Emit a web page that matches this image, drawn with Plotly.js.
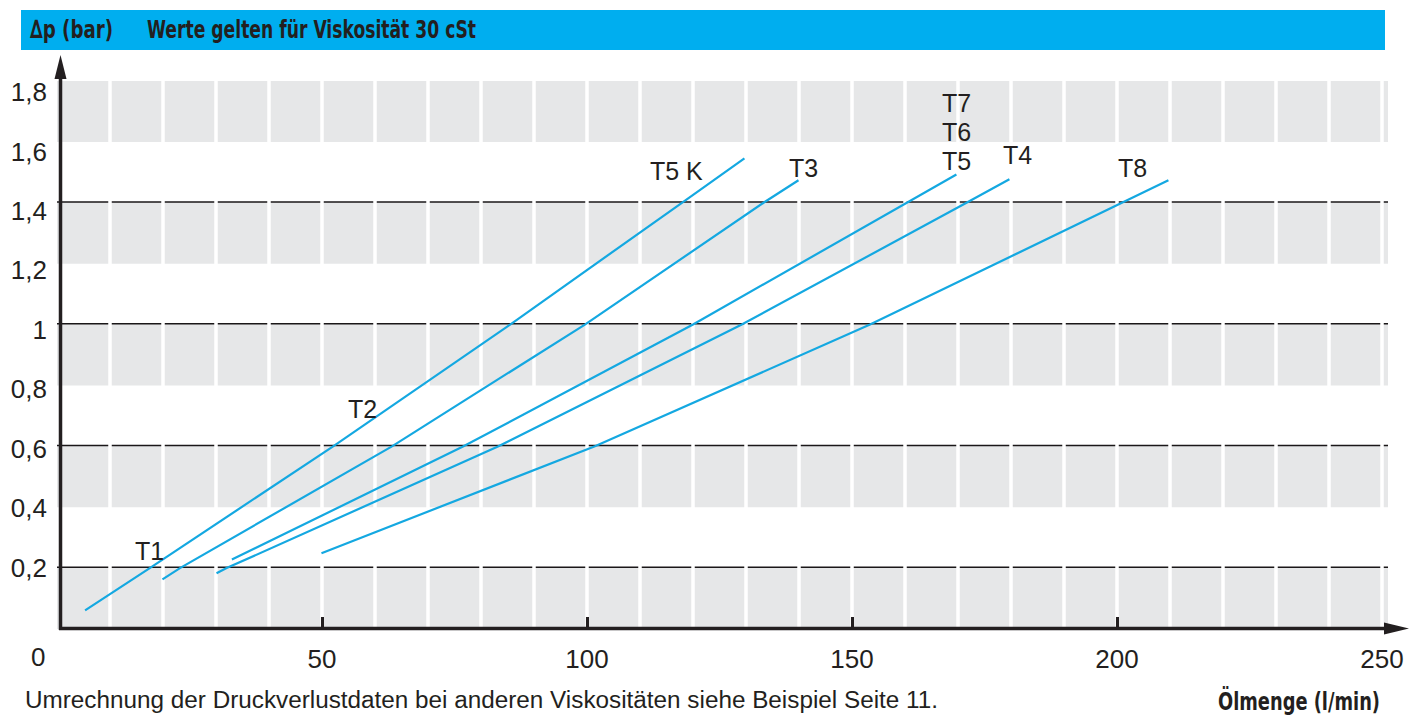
<!DOCTYPE html>
<html>
<head>
<meta charset="utf-8">
<script src="https://cdn.plot.ly/plotly-3.0.1.min.js"></script>
<style>html,body{margin:0;padding:0;background:#fff;}#chart{width:1421px;height:715px;}</style>
</head>
<body>
<div id="chart"></div>
<script>
// ---------- data ----------
const xTickVals = [50, 100, 150, 200, 250];
const xTickText = ["50", "100", "150", "200", "250"];
const yTickVals = [0.2, 0.4, 0.6, 0.8, 1.0, 1.2, 1.4, 1.6, 1.8];
const yTickText = ["0,2", "0,4", "0,6", "0,8", "1", "1,2", "1,4", "1,6", "1,8"];

// line 1 (T1 / T2 / T5 K)
const line1X = [5.3, 17.5, 52.1, 85.5, 117.9, 129.7];
const line1Y = [0.061, 0.2, 0.6, 1.0, 1.4, 1.546];
// line 2 (T3)
const line2X = [19.9, 23.2, 63.2, 99.6, 133.3, 139.9];
const line2Y = [0.163, 0.2, 0.6, 1.0, 1.4, 1.474];
// line 3 (T5 / T6 / T7)
const line3X = [33.0, 76.7, 120.0, 160.3, 169.7];
const line3Y = [0.228, 0.6, 1.0, 1.4, 1.493];
// line 4 (T4)
const line4X = [30.1, 32.0, 83.3, 129.2, 171.6, 179.7];
const line4Y = [0.183, 0.2, 0.6, 1.0, 1.4, 1.477];
// line 5 (T8)
const line5X = [49.9, 101.5, 153.4, 200.9, 209.7];
const line5Y = [0.249, 0.6, 1.0, 1.4, 1.474];

// curve labels
const labelText = ["T1", "T2", "T5 K", "T3", "T7", "T6", "T5", "T4", "T8"];
const labelX    = [17.5, 57.7, 116.8, 140.9, 169.8, 169.8, 169.8, 181.3, 203.0];
const labelY    = [0.256, 0.724, 1.504, 1.514, 1.728, 1.633, 1.537, 1.557, 1.514];

const headerLeft  = "∆p (bar)";
const headerRight = "Werte gelten für Viskosität 30 cSt";
const footNote    = "Umrechnung der Druckverlustdaten bei anderen Viskositäten siehe Beispiel Seite 11.";
const xTitle      = "Ölmenge (l/min)";

// ---------- layout helpers ----------
const L = 57, T = 81, W = 1331, H = 548;
const XMAX = 251.13, YMAX = 1.8;
const PX = p => (p - L) / W;
const PY = p => (T + H - p) / H;
const INK = "#231f20";
const BLUE = "#14a8e1";
const GRAY = "#e6e7e8";
const condensed = "'Liberation Sans Narrow', 'DejaVu Sans Condensed', sans-serif";
const sans = "'Liberation Sans', Arial, sans-serif";

const shapes = [];
// header bar
shapes.push({type: "rect", xref: "paper", yref: "paper", x0: PX(21), x1: PX(1385), y0: PY(50), y1: PY(10),
  fillcolor: "#00aeef", line: {width: 0}, layer: "above"});
// gray bands
[[0, 0.2], [0.4, 0.6], [0.8, 1.0], [1.2, 1.4], [1.6, 1.8]].forEach(b => {
  shapes.push({type: "rect", xref: "x", yref: "y", x0: 0, x1: XMAX, y0: b[0], y1: b[1],
    fillcolor: GRAY, line: {width: 0}, layer: "below"});
});
// white cell separators
for (let v = 10; v <= 250; v += 10) {
  shapes.push({type: "line", xref: "x", yref: "y", x0: v, x1: v, y0: 0, y1: YMAX,
    line: {color: "#ffffff", width: 3.5}, layer: "below"});
}
// black horizontal lines
[0.2, 0.6, 1.0, 1.4, 1.8].forEach(v => {
  shapes.push({type: "line", xref: "paper", yref: "y", x0: 0, x1: 1, y0: v, y1: v,
    line: {color: "#1a1718", width: 3}, layer: "below"});
});
// axes with arrows
shapes.push({type: "line", xref: "paper", yref: "paper", x0: PX(60.5), x1: PX(60.5), y0: PY(630), y1: PY(70),
  line: {color: INK, width: 3.5}, layer: "above"});
shapes.push({type: "path", xref: "paper", yref: "paper",
  path: `M ${PX(54.5)} ${PY(79)} L ${PX(60.5)} ${PY(55)} L ${PX(66.5)} ${PY(79)} Z`,
  fillcolor: INK, line: {width: 0}, layer: "above"});
shapes.push({type: "line", xref: "paper", yref: "paper", x0: PX(59), x1: PX(1392), y0: PY(628.5), y1: PY(628.5),
  line: {color: INK, width: 3.5}, layer: "above"});
shapes.push({type: "path", xref: "paper", yref: "paper",
  path: `M ${PX(1384)} ${PY(622.5)} L ${PX(1409)} ${PY(628.5)} L ${PX(1384)} ${PY(634.5)} Z`,
  fillcolor: INK, line: {width: 0}, layer: "above"});

const annotations = [];
for (let i = 0; i < labelText.length; i++) {
  annotations.push({xref: "x", yref: "y", x: labelX[i], y: labelY[i], text: labelText[i], showarrow: false,
    xanchor: "center", yanchor: "middle", font: {family: sans, size: 25, color: INK}});
}
annotations.push({xref: "x", yref: "paper", x: 0, y: PY(657), xshift: -19, text: "0", showarrow: false,
  xanchor: "center", yanchor: "middle", font: {family: sans, size: 26, color: INK}});
annotations.push({xref: "paper", yref: "paper", x: PX(29), y: PY(29), text: headerLeft, showarrow: false,
  xanchor: "left", yanchor: "middle", font: {family: condensed, size: 25.5, color: INK, weight: "bold"}});
annotations.push({xref: "paper", yref: "paper", x: PX(146), y: PY(29), text: headerRight, showarrow: false,
  xanchor: "left", yanchor: "middle", font: {family: condensed, size: 25.5, color: INK, weight: "bold"}});
annotations.push({xref: "paper", yref: "paper", x: PX(24), y: PY(700), text: footNote, showarrow: false,
  xanchor: "left", yanchor: "middle", font: {family: sans, size: 23.5, color: INK}});
annotations.push({xref: "paper", yref: "paper", x: PX(1382), y: PY(701), text: xTitle, showarrow: false,
  xanchor: "right", yanchor: "middle", font: {family: condensed, size: 24.5, color: INK, weight: "bold"}});

// widths of the texts in the reference (left edge, right edge), used to condense them
const fitText = [
  {text: headerLeft, left: 30, right: 113},
  {text: headerRight, left: 147, right: 476},
  {text: footNote, left: 25, right: 938},
  {text: xTitle, left: 1218, right: 1380}
];

const lineStyle = {color: BLUE, width: 2.2};
const traces = [
  {x: line1X, y: line1Y, name: "T1 / T2 / T5 K"},
  {x: line2X, y: line2Y, name: "T3"},
  {x: line3X, y: line3Y, name: "T5 / T6 / T7"},
  {x: line4X, y: line4Y, name: "T4"},
  {x: line5X, y: line5Y, name: "T8"}
].map(t => Object.assign(t, {type: "scatter", mode: "lines", line: lineStyle, hoverinfo: "x+y"}));
// empty trace that carries the label axes
traces.push({type: "scatter", mode: "lines", x: [], y: [], xaxis: "x2", yaxis: "y2", showlegend: false, hoverinfo: "skip"});

// label axis for y: label rows in the reference are spaced a little tighter than the grid
const yLab0 = 627.15, yLabScale = 297.34;
const y2Range = [(yLab0 - (T + H)) / yLabScale, (yLab0 - T) / yLabScale];

const layout = {
  width: 1421, height: 715,
  margin: {l: L, r: 1421 - L - W, t: T, b: 715 - T - H, pad: 0},
  paper_bgcolor: "#ffffff", plot_bgcolor: "#ffffff",
  showlegend: false,
  xaxis: {range: [0, XMAX], showgrid: false, zeroline: false, showline: false,
    tickvals: [50, 100, 150, 200], ticks: "inside", ticklen: 12, tickwidth: 3, tickcolor: INK,
    showticklabels: false, fixedrange: true},
  yaxis: {range: [0, YMAX], showgrid: false, zeroline: false, showline: false, ticks: "",
    showticklabels: false, fixedrange: true},
  xaxis2: {overlaying: "x", anchor: "y2", side: "bottom", range: [0, XMAX], showgrid: false, zeroline: false,
    showline: false, ticks: "", tickvals: xTickVals, ticktext: xTickText, ticklabelstandoff: 12,
    tickfont: {family: sans, size: 26, color: INK}, fixedrange: true},
  yaxis2: {overlaying: "y", anchor: "x2", side: "left", range: y2Range, showgrid: false, zeroline: false,
    showline: false, ticks: "", tickvals: yTickVals, ticktext: yTickText, ticklabelstandoff: 9,
    tickfont: {family: sans, size: 26, color: INK}, fixedrange: true},
  shapes: shapes,
  annotations: annotations
};

Plotly.newPlot("chart", traces, layout, {displayModeBar: false, staticPlot: true}).then(gd => {
  const els = Array.from(gd.querySelectorAll("text.annotation-text"));
  fitText.forEach(f => {
    const el = els.find(e => e.textContent === f.text);
    if (!el) return;
    el.setAttribute("textLength", f.right - f.left);
    el.setAttribute("lengthAdjust", "spacingAndGlyphs");
    const r = el.getBoundingClientRect();
    const dx = f.left - r.left;
    const x0 = parseFloat(el.getAttribute("x") || "0");
    el.setAttribute("x", x0 + dx);
  });
});
</script>
</body>
</html>
